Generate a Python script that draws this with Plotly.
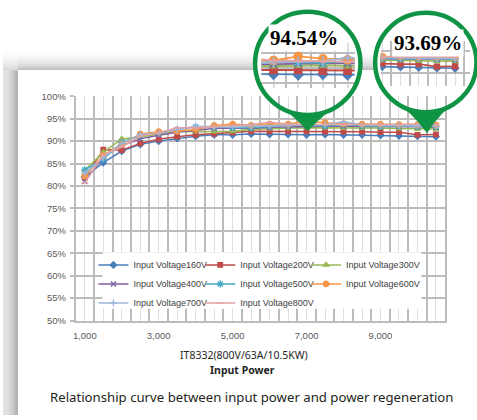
import plotly.graph_objects as go

# ---------------- data ----------------
power = [1000, 1500, 2000, 2500, 3000, 3500, 4000, 4500, 5000, 5500,
         6000, 6500, 7000, 7500, 8000, 8500, 9000, 9500, 10000, 10500]

v160 = [82.0, 85.2, 87.8, 89.3, 90.0, 90.6, 91.1, 91.4, 91.4, 91.6,
        91.5, 91.5, 91.4, 91.5, 91.4, 91.4, 91.3, 91.2, 91.1, 91.0]
v200 = [81.8, 88.1, 88.0, 89.5, 90.4, 91.0, 91.4, 91.6, 91.9, 92.2,
        92.2, 92.2, 92.2, 92.1, 92.1, 92.1, 92.0, 92.0, 91.4, 91.5]
v300 = [83.5, 87.5, 90.5, 90.9, 91.6, 92.2, 92.1, 92.1, 92.2, 92.6,
        92.8, 92.9, 93.0, 93.0, 92.9, 92.9, 92.9, 92.8, 92.7, 92.7]
v400 = [81.0, 86.5, 89.0, 90.5, 91.3, 92.0, 92.4, 92.8, 92.9, 92.8,
        93.1, 93.2, 93.3, 93.3, 93.3, 93.3, 93.2, 93.3, 93.2, 93.1]
v500 = [83.6, 86.0, 89.7, 91.3, 91.9, 92.6, 93.2, 93.1, 93.0, 93.0,
        93.3, 93.6, 93.5, 93.4, 93.7, 93.4, 93.3, 93.4, 93.3, 93.2]
v600 = [82.2, 86.8, 89.3, 91.6, 92.1, 92.2, 92.6, 93.5, 93.8, 93.5,
        93.8, 93.8, 94.5, 94.1, 93.9, 93.8, 93.8, 93.7, 93.7, 93.6]
v700 = [82.8, 86.3, 89.5, 91.5, 91.8, 92.6, 93.3, 93.2, 93.1, 93.3,
        93.4, 93.5, 93.6, 93.7, 94.3, 93.6, 93.5, 93.5, 93.4, 93.3]
v800 = [80.7, 87.0, 88.7, 91.1, 91.9, 93.0, 93.0, 93.2, 93.5, 93.7,
        94.2, 93.8, 93.7, 93.7, 93.6, 93.7, 93.6, 93.7, 93.8, 93.7]

names = ["Input Voltage160V", "Input Voltage200V", "Input Voltage300V",
         "Input Voltage400V", "Input Voltage500V", "Input Voltage600V",
         "Input Voltage700V", "Input Voltage800V"]
values = [v160, v200, v300, v400, v500, v600, v700, v800]
colors = ["#4A7EBB", "#BE4B48", "#98B954", "#7D60A0",
          "#46AAC5", "#F69544", "#9DB5DA", "#E3A3A2"]
symbols = ["diamond", "square", "triangle-up", "x-thin-open",
           "asterisk-open", "circle", "cross-thin-open", "line-ew-open"]
msizes = [5, 4.5, 5, 5, 6, 5.5, 5, 5]
legend_cols = ["legend", "legend2", "legend3",
               "legend", "legend2", "legend3",
               "legend", "legend2"]

callout_labels = ["94.54%", "93.69%"]
caption_axis = "IT8332(800V/63A/10.5KW)"
caption_axis2 = "Input Power"
caption = "Relationship curve between input power and power regeneration"

# ---------------- layout helpers ----------------
W, H = 477, 420
def px(x):
    return x / W
def py(y):
    return 1 - y / H

GREEN = "#0E9444"

fig = go.Figure()

for i, (nm, vals) in enumerate(zip(names, values)):
    mk = dict(symbol=symbols[i], size=msizes[i], color=colors[i],
              line=dict(color=colors[i], width=1.3))
    fig.add_trace(go.Scatter(x=power, y=vals, name=nm, mode="lines+markers",
                             line=dict(color=colors[i], width=1.5), marker=mk,
                             legend=legend_cols[i], xaxis="x", yaxis="y"))
for i, vals in enumerate(values):
    mk = dict(symbol=symbols[i], size=msizes[i] + 2.5, color=colors[i],
              line=dict(color=colors[i], width=1.6))
    fig.add_trace(go.Scatter(x=power, y=vals, mode="lines+markers", showlegend=False,
                             line=dict(color=colors[i], width=1.8), marker=mk,
                             xaxis="x2", yaxis="y2", hoverinfo="skip"))
for i, vals in enumerate(values):
    mk = dict(symbol=symbols[i], size=msizes[i] + 0.5, color=colors[i],
              line=dict(color=colors[i], width=1.4))
    fig.add_trace(go.Scatter(x=power, y=vals, mode="lines+markers", showlegend=False,
                             line=dict(color=colors[i], width=1.6), marker=mk,
                             xaxis="x3", yaxis="y3", hoverinfo="skip"))

tickfont = dict(family="Liberation Sans", size=9.5, color="#595959")
GRID_MAJ = "#bcbcbc"
GRID_MIN = "#dedede"

legfont = dict(family="Liberation Sans", size=9, color="#404040")
def leg(xpix):
    return dict(orientation="v", x=px(xpix), y=py(251), xanchor="left", yanchor="top",
                bgcolor="rgba(0,0,0,0)", font=legfont, itemwidth=30,
                traceorder="normal", tracegroupgap=0)

fig.update_layout(
    width=W, height=H, margin=dict(l=0, r=0, t=0, b=0),
    paper_bgcolor="white", plot_bgcolor="rgba(0,0,0,0)",
    showlegend=True,
    legend=leg(91), legend2=leg(198.5), legend3=leg(305),
    xaxis=dict(domain=[px(73), px(445)], range=[750, 10750], anchor="y",
               tickmode="linear", tick0=1000, dtick=500, ticklabelstep=4,
               tickformat=",d", tickfont=tickfont, ticks="", ticklabelstandoff=5,
               showgrid=True, gridcolor=GRID_MIN, gridwidth=1.3,
               minor=dict(tickmode="linear", tick0=750, dtick=500, showgrid=True,
                          gridcolor=GRID_MAJ, gridwidth=1.5),
               showline=True, linecolor=GRID_MAJ, linewidth=1.5,
               zeroline=False, fixedrange=True),
    yaxis=dict(domain=[py(323), py(92.7)], range=[50, 100], anchor="x",
               tickmode="linear", tick0=50, dtick=5, ticksuffix="%",
               tickfont=tickfont, ticks="outside", ticklen=4, tickcolor=GRID_MAJ,
               ticklabelstandoff=2,
               tickwidth=1.5, showgrid=True, gridcolor=GRID_MAJ, gridwidth=1.5,
               showline=True, linecolor=GRID_MAJ, linewidth=1.5, mirror=True,
               zeroline=False, fixedrange=True),
    # inset in left callout
    xaxis2=dict(domain=[px(260), px(354)], range=[6254, 8146], anchor="y2",
                tickmode="linear", tick0=1000, dtick=500, showticklabels=False,
                showgrid=True, gridcolor=GRID_MIN, gridwidth=1.5,
                minor=dict(tickmode="linear", tick0=750, dtick=500, showgrid=True,
                           gridcolor=GRID_MAJ, gridwidth=1.8),
                showline=False, zeroline=False, fixedrange=True),
    yaxis2=dict(domain=[py(84), py(38)], range=[89.2, 96.75], anchor="x2",
                tickmode="linear", tick0=50, dtick=2.5, showticklabels=False,
                showgrid=True, gridcolor=GRID_MAJ, gridwidth=1.5,
                showline=False, zeroline=False, fixedrange=True),
    # inset in right callout
    xaxis3=dict(domain=[px(380), px(470)], range=[8454, 10910], anchor="y3",
                tickmode="linear", tick0=1000, dtick=500, showticklabels=False,
                showgrid=True, gridcolor=GRID_MIN, gridwidth=1.3,
                minor=dict(tickmode="linear", tick0=750, dtick=500, showgrid=True,
                           gridcolor=GRID_MAJ, gridwidth=1.5),
                showline=False, zeroline=False, fixedrange=True),
    yaxis3=dict(domain=[py(82), py(36)], range=[86.84, 97.46], anchor="x3",
                tickmode="linear", tick0=50, dtick=5, showticklabels=False,
                showgrid=True, gridcolor=GRID_MAJ, gridwidth=1.5,
                showline=False, zeroline=False, fixedrange=True),
)

shapes = []
# drop shadow of the card: left strip and top band
for i in range(15):
    t = i / 14
    c = int(228 - (228 - 165) * t ** 2)
    shapes.append(dict(type="rect", xref="paper", yref="paper", layer="below",
                       x0=px(i), x1=px(i + 1), y0=py(420), y1=py(66),
                       line=dict(width=0), fillcolor=f"rgb({c},{c},{c})"))
for j in range(22):
    t = j / 21
    c = int(255 - (255 - 178) * t ** 2)
    shapes.append(dict(type="rect", xref="paper", yref="paper", layer="below",
                       x0=px(15), x1=px(477), y0=py(44 + j + 1), y1=py(44 + j),
                       line=dict(width=0), fillcolor=f"rgb({c},{c},{c})"))
for j in range(22):
    t = j / 21
    c = int(255 - (255 - 205) * t ** 2)
    shapes.append(dict(type="rect", xref="paper", yref="paper", layer="below",
                       x0=px(0), x1=px(15), y0=py(44 + j + 1), y1=py(44 + j),
                       line=dict(width=0), fillcolor=f"rgb({c},{c},{c})"))
# white card
shapes.append(dict(type="rect", xref="paper", yref="paper", layer="below",
                   x0=px(15), x1=px(477), y0=py(420), y1=py(66),
                   line=dict(width=0), fillcolor="white"))
# white legend box (legends themselves are drawn above it)
shapes.append(dict(type="rect", xref="paper", yref="paper", layer="above",
                   x0=px(100), x1=px(421), y0=py(311), y1=py(253),
                   line=dict(width=0), fillcolor="white"))

def circle(cx, cy, r, layer, fill, lw):
    return dict(type="circle", xref="paper", yref="paper", layer=layer,
                x0=px(cx - r), x1=px(cx + r), y0=py(cy + r), y1=py(cy - r),
                fillcolor=fill, line=dict(color=GREEN, width=lw))

def pin(cx, cy, r, tipx, tipy):
    k = 0.5523 * r * 0.7071
    d = r * 0.7071
    p0 = (cx + d, cy + d)
    p3 = (cx - d, cy + d)
    p1 = (p0[0] - k, p0[1] + k)
    p2 = (p3[0] + k, p3[1] + k)
    ql = (cx - 0.28 * r, cy + r * 0.98)
    qr = (cx + 0.28 * r, cy + r * 0.98)
    def P(pt):
        return f"{px(pt[0]):.5f},{py(pt[1]):.5f}"
    path = (f"M {P(p3)} Q {P(ql)} {P((tipx, tipy))} Q {P(qr)} {P(p0)} "
            f"C {P(p1)} {P(p2)} {P(p3)} Z")
    return dict(type="path", xref="paper", yref="paper", layer="above",
                path=path, fillcolor=GREEN, line=dict(color=GREEN, width=1))

c1 = (306.7, 59, 53)
c2 = (425.5, 58, 51)
shapes.append(circle(*c1, "below", "white", 0))
shapes.append(circle(*c2, "below", "white", 0))
shapes.append(pin(*c1, 306.7, 128))
shapes.append(pin(*c2, 426.7, 130))
shapes.append(circle(*c1, "above", "rgba(0,0,0,0)", 4.5))
shapes.append(circle(*c2, "above", "rgba(0,0,0,0)", 4.5))

fig.update_layout(shapes=shapes)

def note(text, x, y, font, bg=None):
    d = dict(text=text, x=px(x), y=py(y), xref="paper", yref="paper",
             xanchor="center", yanchor="middle", showarrow=False, font=font)
    if bg:
        d.update(bgcolor=bg, borderpad=1)
    return d

serif = dict(family="Liberation Serif", size=21, color="black")
ann = [
    note(f"<b>{callout_labels[0]}</b>", 302.5, 33, serif, "white"),
    note(f"<b>{callout_labels[1]}</b>", 427.5, 37.5, serif, "white"),
    note(caption_axis, 243, 358, dict(family="Noto Sans", size=10.5, color="#262626")),
    note(f"<b>{caption_axis2}</b>", 241, 373.5, dict(family="Noto Sans", size=10.5, color="#262626")),
    note(caption, 250.5, 402, dict(family="Noto Sans", size=13.2, color="#231f20")),
]
fig.update_layout(annotations=ann)

fig.write_html("out.html", config={"displayModeBar": False},
               post_script="document.body.style.margin='0';")
